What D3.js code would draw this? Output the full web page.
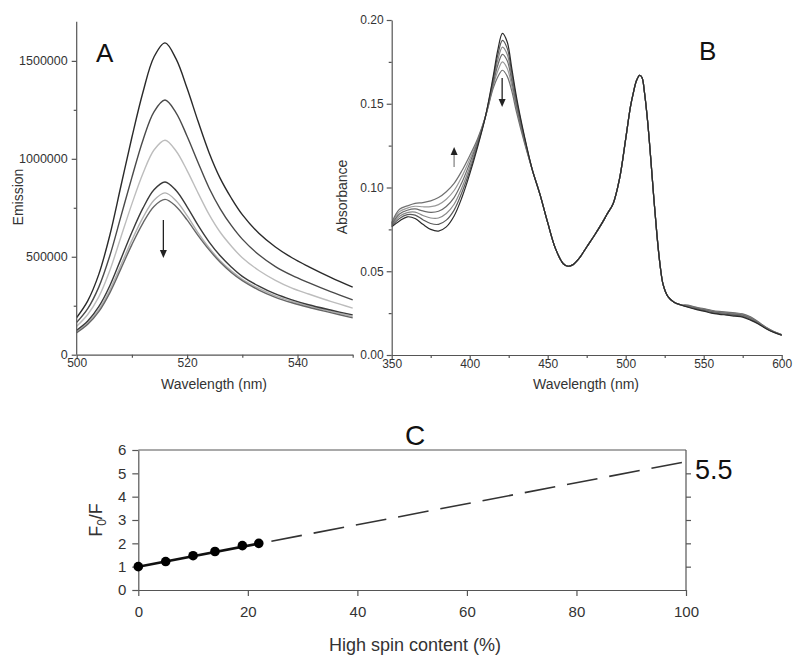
<!DOCTYPE html>
<html><head><meta charset="utf-8">
<script src="https://cdn.jsdelivr.net/npm/d3@7"></script>
<style>
html,body{margin:0;padding:0;background:#fff;}
svg{display:block;font-family:"Liberation Sans",Arial,sans-serif;}
</style></head><body>
<svg id="chart" width="800" height="667"></svg>
<script>
// ---------- Panel A data (emission, thousands) ----------
const aWavelengths = [500,502,504,506,508,510,512,514,516,518,520,522,524,526,528,530,533,536,539,542,546,550];
const aSeries1 = [190,275,410,610,860,1110,1340,1520,1592,1510,1360,1190,1030,900,800,715,620,550,495,450,395,345];
const aSeries2 = [165,235,345,505,705,905,1095,1240,1300,1235,1115,980,850,745,660,590,510,450,405,368,322,280];
const aSeries3 = [145,205,295,430,600,770,925,1045,1095,1040,940,825,715,625,555,495,430,380,340,310,272,238];
const aSeries4 = [125,172,245,352,488,625,748,842,882,838,755,660,575,505,448,400,350,310,280,255,228,203];
const aSeries5 = [118,162,230,330,457,585,700,788,826,786,710,622,545,480,428,385,338,300,272,248,222,195];
const aSeries6 = [112,155,220,316,438,562,672,757,793,757,688,608,535,472,420,378,330,293,265,242,215,188];
const aColors = ["#2a2a2a","#4a4a4a","#bdbdbd","#3a3a3a","#b0b0b0","#666666"];
const aYTicks = [0,500000,1000000,1500000];
const aXTicks = [500,520,540];

// ---------- Panel B data (absorbance) ----------
const bHeadWl = [350,355,360,365,370,375,380,385,390,395,400,405,410,415,418,421,424,427,430,435,440];
const bHead0 = [.0765,.0800,.0825,.0815,.0780,.0750,.0740,.0765,.0830,.0940,.1080,.1240,.1420,.1660,.1820,.1920,.1870,.1710,.1540,.1310,.1110];
const bHead1 = [.0770,.0815,.0838,.0835,.0808,.0785,.0780,.0805,.0865,.0970,.1100,.1250,.1420,.1645,.1790,.1878,.1832,.1685,.1522,.1302,.1110];
const bHead2 = [.0775,.0828,.0850,.0853,.0833,.0818,.0818,.0845,.0900,.0998,.1122,.1260,.1420,.1630,.1760,.1838,.1796,.1660,.1505,.1294,.1110];
const bHead3 = [.0780,.0842,.0864,.0872,.0860,.0852,.0858,.0887,.0940,.1030,.1145,.1270,.1420,.1618,.1730,.1795,.1758,.1635,.1488,.1286,.1110];
const bHead4 = [.0785,.0856,.0877,.0888,.0885,.0886,.0898,.0930,.0982,.1065,.1168,.1280,.1420,.1604,.1695,.1750,.1712,.1605,.1470,.1278,.1110];
const bHead5 = [.0790,.0870,.0890,.0905,.0910,.0920,.0940,.0975,.1025,.1100,.1190,.1290,.1420,.1590,.1660,.1700,.1665,.1575,.1450,.1270,.1110];
const bMidWl = [445,450,455,460,463,466,470,475,480,485,488,492,496,500,503,505,507,509,510.5,512,514,516,518,520,522,524,527,531,535];
const bMid = [.0960,.0790,.0635,.0545,.0530,.0538,.0575,.0645,.0715,.0790,.0840,.0905,.1050,.1290,.1480,.1570,.1640,.1670,.1655,.1570,.1400,.1180,.0940,.0720,.0540,.0420,.0350,.0315,.0300];
const bTailWl = [540,545,550,555,560,565,570,575,580,585,590,595,600];
const bTail0 = [.0285,.0272,.0262,.0250,.0243,.0238,.0232,.0226,.0208,.0185,.0157,.0135,.0118];
const bTail1 = [.0287,.0275,.0265,.0253,.0246,.0241,.0236,.0230,.0212,.0188,.0159,.0136,.0119];
const bTail2 = [.0290,.0278,.0268,.0257,.0250,.0245,.0240,.0234,.0217,.0191,.0161,.0137,.0120];
const bTail3 = [.0292,.0280,.0271,.0260,.0253,.0249,.0244,.0238,.0221,.0193,.0162,.0138,.0120];
const bTail4 = [.0295,.0283,.0274,.0264,.0257,.0253,.0248,.0242,.0225,.0196,.0164,.0139,.0121];
const bTail5 = [.0298,.0286,.0277,.0267,.0260,.0256,.0252,.0246,.0228,.0198,.0165,.0140,.0122];
const bColors = ["#2a2a2a","#5a5a5a","#8a8a8a","#6a6a6a","#9a9a9a","#707070"];
const bYTicks = [0,0.05,0.10,0.15,0.20];
const bXTicks = [350,400,450,500,550,600];

// ---------- Panel C data ----------
const cX = [0,5,10,14,19,22];
const cY = [1.0,1.22,1.47,1.65,1.9,2.0];
const cFitX = [0,22];
const cFitY = [1.0,1.99];
const cExtX = [24.3,100];
const cExtY = [2.09,5.5];
const cYTicks = [0,1,2,3,4,5,6];
const cXTicks = [0,20,40,60,80,100];
const cEndLabel = "5.5";

const svg = d3.select("#chart");
const axisColor = "#555";
const labelColor = "#333";

function styleAxis(g){
  g.selectAll("path,line").attr("stroke",axisColor).attr("stroke-width",1.2);
  g.selectAll("text").attr("fill",labelColor).attr("font-family","Liberation Sans, Arial, sans-serif");
}
function arrow(g,x,y1,y2,color,headColor){
  const dir = y2>y1?1:-1;
  g.append("line").attr("x1",x).attr("x2",x).attr("y1",y1).attr("y2",y2-dir*6)
    .attr("stroke",color).attr("stroke-width",1.3);
  g.append("path").attr("d",`M${x-3.5},${y2-dir*8} L${x+3.5},${y2-dir*8} L${x},${y2} Z`).attr("fill",headColor);
}

// ================= Panel A =================
{
  const x = d3.scaleLinear().domain([500,550]).range([76.7,352.7]);
  const y = d3.scaleLinear().domain([0,1700000]).range([354.7,21.7]);
  const g = svg.append("g");
  const series = [aSeries1,aSeries2,aSeries3,aSeries4,aSeries5,aSeries6];
  const line = d3.line().x(d=>x(d[0])).y(d=>y(d[1]*1000)).curve(d3.curveCatmullRom.alpha(0.5));
  [2,4,5,3,1,0].forEach(i=>{
    g.append("path").datum(aWavelengths.map((w,j)=>[w,series[i][j]]))
      .attr("d",line).attr("fill","none").attr("stroke",aColors[i]).attr("stroke-width",1.4);
  });
  const gy = g.append("g").attr("transform",`translate(${x(500)},0)`)
    .call(d3.axisLeft(y).tickValues(aYTicks).tickFormat(d3.format("d")).tickSize(5).tickSizeOuter(0).tickPadding(4));
  gy.select(".domain").attr("d",`M0,${y(0)}V${y(1700000)}`);
  gy.selectAll("text").attr("font-size",12.5);
  styleAxis(gy);
  g.append("g").attr("transform",`translate(${x(500)},0)`)
    .call(d3.axisLeft(y).tickValues([250000,750000,1250000]).tickFormat("").tickSize(3).tickSizeOuter(0))
    .call(s=>s.select(".domain").remove()).call(styleAxis);
  const gx = g.append("g").attr("transform",`translate(0,${y(0)})`)
    .call(d3.axisBottom(x).tickValues(aXTicks).tickFormat(d3.format("d")).tickSize(4).tickSizeOuter(0).tickPadding(0));
  gx.selectAll("text").attr("font-size",12);
  styleAxis(gx);
  g.append("g").attr("transform",`translate(0,${y(0)})`)
    .call(d3.axisBottom(x).tickValues([510,530,550]).tickFormat("").tickSize(3).tickSizeOuter(0))
    .call(s=>s.select(".domain").remove()).call(styleAxis);
  g.append("text").attr("x",214).attr("y",389).attr("text-anchor","middle").attr("font-size",14).attr("fill",labelColor).text("Wavelength (nm)");
  g.append("text").attr("transform","translate(23,197) rotate(-90)").attr("text-anchor","middle").attr("font-size",14).attr("fill",labelColor).text("Emission");
  g.append("text").attr("x",96).attr("y",61.5).attr("font-size",26).attr("fill","#111").text("A");
  arrow(g,x(515.7),220,258,"#222","#222");
}

// ================= Panel B =================
{
  const x = d3.scaleLinear().domain([350,600]).range([391.7,781.7]);
  const y = d3.scaleLinear().domain([0,0.2]).range([355,20]);
  const g = svg.append("g");
  const heads = [bHead0,bHead1,bHead2,bHead3,bHead4,bHead5];
  const tails = [bTail0,bTail1,bTail2,bTail3,bTail4,bTail5];
  const line = d3.line().x(d=>x(d[0])).y(d=>y(d[1])).curve(d3.curveCatmullRom.alpha(0.5));
  [4,2,3,1,5,0].forEach(k=>{
    const pts = bHeadWl.map((w,j)=>[w,heads[k][j]])
      .concat(bMidWl.map((w,j)=>[w,bMid[j]]))
      .concat(bTailWl.map((w,j)=>[w,tails[k][j]]));
    g.append("path").datum(pts).attr("d",line).attr("fill","none").attr("stroke",bColors[k]).attr("stroke-width",1.2);
  });
  const gy = g.append("g").attr("transform",`translate(${x(350)},0)`)
    .call(d3.axisLeft(y).tickValues(bYTicks).tickFormat(d3.format(".2f")).tickSize(5).tickSizeOuter(0).tickPadding(3));
  gy.selectAll("text").attr("font-size",12);
  styleAxis(gy);
  g.append("g").attr("transform",`translate(${x(350)},0)`)
    .call(d3.axisLeft(y).tickValues([0.025,0.075,0.125,0.175]).tickFormat("").tickSize(3).tickSizeOuter(0))
    .call(s=>s.select(".domain").remove()).call(styleAxis);
  const gx = g.append("g").attr("transform",`translate(0,${y(0)})`)
    .call(d3.axisBottom(x).tickValues(bXTicks).tickFormat(d3.format("d")).tickSize(4).tickSizeOuter(0).tickPadding(0));
  gx.selectAll("text").attr("font-size",12);
  styleAxis(gx);
  g.append("g").attr("transform",`translate(0,${y(0)})`)
    .call(d3.axisBottom(x).tickValues([375,425,475,525,575]).tickFormat("").tickSize(3).tickSizeOuter(0))
    .call(s=>s.select(".domain").remove()).call(styleAxis);
  g.append("text").attr("x",586).attr("y",389).attr("text-anchor","middle").attr("font-size",14).attr("fill",labelColor).text("Wavelength (nm)");
  g.append("text").attr("transform","translate(347,197) rotate(-90)").attr("text-anchor","middle").attr("font-size",14).attr("fill",labelColor).text("Absorbance");
  g.append("text").attr("x",699).attr("y",60).attr("font-size",26).attr("fill","#111").text("B");
  arrow(g,x(420.8),78,107,"#222","#222");
  arrow(g,x(390),167,147,"#888","#222");
}

// ================= Panel C =================
{
  const x = d3.scaleLinear().domain([0,100]).range([138.3,686]);
  const y = d3.scaleLinear().domain([0,6]).range([590,450]);
  const g = svg.append("g");
  g.append("line").attr("x1",x(0)).attr("x2",x(100)).attr("y1",y(6)).attr("y2",y(6)).attr("stroke",axisColor).attr("stroke-width",1.2);
  const gy = g.append("g").attr("transform",`translate(${x(0)},0)`)
    .call(d3.axisLeft(y).tickValues(cYTicks).tickFormat(d3.format("d")).tickSize(6).tickSizeOuter(0).tickPadding(6));
  gy.selectAll("text").attr("font-size",15);
  styleAxis(gy);
  const gr = g.append("g").attr("transform",`translate(${x(100)},0)`)
    .call(d3.axisRight(y).tickValues([1,2,3,4,5]).tickFormat("").tickSize(5).tickSizeOuter(0));
  gr.select(".domain").attr("d",`M0,${y(0)}V${y(6)}`);
  styleAxis(gr);
  const gx = g.append("g").attr("transform",`translate(0,${y(0)})`)
    .call(d3.axisBottom(x).tickValues(cXTicks).tickFormat(d3.format("d")).tickSize(6).tickSizeOuter(0).tickPadding(10));
  gx.selectAll("text").attr("font-size",15);
  styleAxis(gx);
  g.append("path").datum(cExtX.map((v,i)=>[v,cExtY[i]]))
    .attr("d",d3.line().x(d=>x(d[0])).y(d=>y(d[1])))
    .attr("fill","none").attr("stroke","#333").attr("stroke-width",1.6).attr("stroke-dasharray","31,12");
  g.append("path").datum(cFitX.map((v,i)=>[v,cFitY[i]]))
    .attr("d",d3.line().x(d=>x(d[0])).y(d=>y(d[1])))
    .attr("fill","none").attr("stroke","#111").attr("stroke-width",2.6);
  g.selectAll("circle.pt").data(cX.map((v,i)=>[v,cY[i]])).enter().append("circle")
    .attr("cx",d=>x(d[0])).attr("cy",d=>y(d[1])).attr("r",4.8).attr("fill","#000");
  g.append("text").attr("x",x(100)+9).attr("y",479).attr("font-size",27).attr("fill","#111").text(cEndLabel);
  g.append("text").attr("x",415).attr("y",445).attr("text-anchor","middle").attr("font-size",28).attr("fill","#111").text("C");
  g.append("text").attr("x",415).attr("y",651).attr("text-anchor","middle").attr("font-size",18).attr("fill",labelColor).text("High spin content (%)");
  const yl = g.append("text").attr("transform","translate(102,520) rotate(-90)").attr("text-anchor","middle").attr("font-size",18).attr("fill",labelColor);
  yl.append("tspan").text("F");
  yl.append("tspan").attr("font-size",12).attr("dy",4).text("0");
  yl.append("tspan").attr("dy",-4).text("/F");
}
</script>
</body></html>
